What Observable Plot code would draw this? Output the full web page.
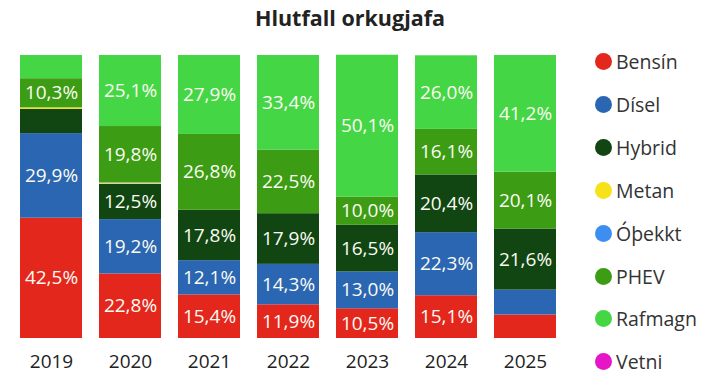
<!DOCTYPE html>
<html>
<head>
<meta charset="utf-8">
<script src="https://cdn.jsdelivr.net/npm/d3@7"></script>
<script src="https://cdn.jsdelivr.net/npm/@observablehq/plot@0.6"></script>
<style>
  html, body { margin: 0; padding: 0; background: #fff; }
  #wrap { position: relative; width: 713px; height: 381px; overflow: hidden; font-family: "Open Sans", "Noto Sans", sans-serif; }
  #title { position: absolute; left: 0; width: 700px; top: 3px; text-align: center; font-weight: 700; font-size: 21.5px; color: #222; }
  #legend { position: absolute; left: 595px; top: 0; }
  .li { position: absolute; left: 0; display: flex; align-items: center; white-space: nowrap; font-size: 19.5px; color: #333; }
  .dot { width: 17px; height: 17px; border-radius: 50%; margin-right: 4px; }
  #chart { position: absolute; left: 0; top: 0; }
</style>
</head>
<body>
<div id="wrap">
  <div id="chart"></div>
  <div id="title">Hlutfall orkugjafa</div>
  <div id="legend"></div>
</div>
<script>
const years = ["2019", "2020", "2021", "2022", "2023", "2024", "2025"];
const fuels = ["Bensín", "Dísel", "Hybrid", "Metan", "Óþekkt", "PHEV", "Rafmagn", "Vetni"];
const colors = ["#e3271d", "#2b66b2", "#114612", "#f5e21a", "#3d8ef0", "#3c9c14", "#45d645", "#e616c8"];

const bensin  = [42.5, 22.8, 15.4, 11.9, 10.5, 15.1, 8.3];
const disel   = [29.9, 19.2, 12.1, 14.3, 13.0, 22.3, 8.8];
const hybrid  = [8.6, 12.5, 17.8, 17.9, 16.5, 20.4, 21.6];
const metan   = [0.5, 0.4, 0, 0, 0, 0, 0];
const othekkt = [0, 0.2, 0, 0, 0, 0, 0];
const phev    = [10.3, 19.8, 26.8, 22.5, 10.0, 16.1, 20.1];
const rafmagn = [8.2, 25.1, 27.9, 33.4, 50.1, 26.0, 41.2];
const vetni   = [0, 0, 0, 0, 0, 0, 0];

const series = [bensin, disel, hybrid, metan, othekkt, phev, rafmagn, vetni];
const data = [];
years.forEach((y, i) => fuels.forEach((f, j) => data.push({year: y, fuel: f, value: series[j][i]})));

const fmt = v => v.toFixed(1).replace(".", ",") + "%";

const plot = Plot.plot({
  width: 713,
  height: 381,
  marginLeft: 0,
  marginRight: 136,
  marginTop: 55,
  marginBottom: 43,
  style: { fontFamily: "'Open Sans', 'Noto Sans', sans-serif", background: "transparent" },
  x: { domain: years, padding: 0.215, label: null, tickSize: 0 },
  y: { domain: [0, 100], axis: null },
  color: { domain: fuels, range: colors },
  marks: [
    Plot.barY(data, Plot.stackY({ x: "year", y: "value", z: "fuel", fill: "fuel", order: fuels })),
    Plot.text(data, Plot.stackY({
      x: "year", y: "value", z: "fuel", order: fuels,
      text: d => d.value >= 9.5 ? fmt(d.value) : "",
      fill: "#fbfbf3", fontSize: 19
    })),
    Plot.axisX({ tickSize: 0, tickPadding: 12, dy: 4, fontSize: 19, fill: "#222", label: null })
  ]
});
document.getElementById("chart").appendChild(plot);

const legend = document.getElementById("legend");
fuels.forEach((f, i) => {
  const row = document.createElement("div");
  row.className = "li";
  row.style.top = (62 + i * 42.9 - 14) + "px";
  const dot = document.createElement("div");
  dot.className = "dot";
  dot.style.background = colors[i];
  const t = document.createElement("span");
  t.textContent = f;
  row.appendChild(dot);
  row.appendChild(t);
  legend.appendChild(row);
});
</script>
</body>
</html>
